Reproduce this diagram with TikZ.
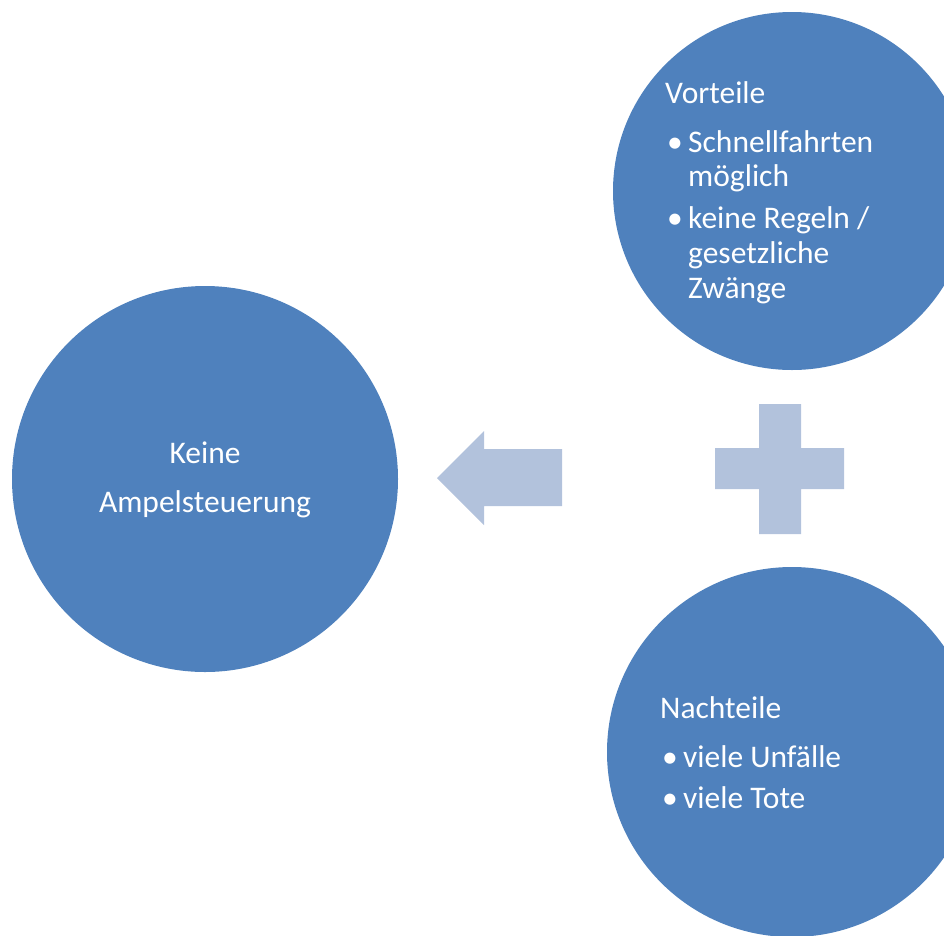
\documentclass[tikz,border=0pt]{standalone}
\usepackage{fontspec}
\setmainfont{Carlito}
\definecolor{circblue}{HTML}{4F81BD}
\definecolor{lightblue}{HTML}{B2C2DC}
\tikzset{
  bubble/.style={circle,fill=circblue,draw=none,inner sep=0pt},
  lbl/.style={text=white,font=\fontsize{31.5}{36}\selectfont,inner sep=0pt,anchor=base west},
  clbl/.style={text=white,font=\fontsize{31.5}{36}\selectfont,inner sep=0pt,anchor=base},
  shapefill/.style={fill=lightblue,draw=none}
}
\begin{document}
\begin{tikzpicture}[x=1pt,y=-1pt]
\useasboundingbox (0,0) rectangle (944,935);
\clip (0,0) rectangle (944,935);
% circles
\node[bubble,minimum size=386pt] (left) at (205,479) {};
\node[bubble,minimum size=358pt] (top) at (792,191) {};
\node[bubble,minimum size=370pt] (bottom) at (792,752) {};
% arrow
\fill[shapefill] (437,478) -- (484,431) -- (484,449) -- (562,449) -- (562,506) -- (484,506) -- (484,525) -- cycle;
% plus
\fill[shapefill] (759,404) -- (801,404) -- (801,448) -- (844,448) -- (844,489) -- (801,489) -- (801,534) -- (759,534) -- (759,489) -- (715,489) -- (715,448) -- (759,448) -- cycle;
% left text
\node[clbl] (k1) at (205,463) {Keine};
\node[clbl] (k2) at (205,512) {Ampelsteuerung};
% top text
\node[lbl] (v0) at (665,103) {Vorteile};
\node[lbl] (v1b) at (667,152) {•};
\node[lbl] (v1) at (688,152) {Schnellfahrten};
\node[lbl] (v2) at (688,186) {möglich};
\node[lbl] (v3b) at (667,228) {•};
\node[lbl] (v3) at (688,228) {keine Regeln /};
\node[lbl] (v4) at (688,263) {gesetzliche};
\node[lbl] (v5) at (688,298) {Zwänge};
% bottom text
\node[lbl] (n0) at (660,718) {Nachteile};
\node[lbl] (n1b) at (662,767) {•};
\node[lbl] (n1) at (683,767) {viele Unfälle};
\node[lbl] (n2b) at (662,808) {•};
\node[lbl] (n2) at (683,808) {viele Tote};
\end{tikzpicture}
\end{document}
